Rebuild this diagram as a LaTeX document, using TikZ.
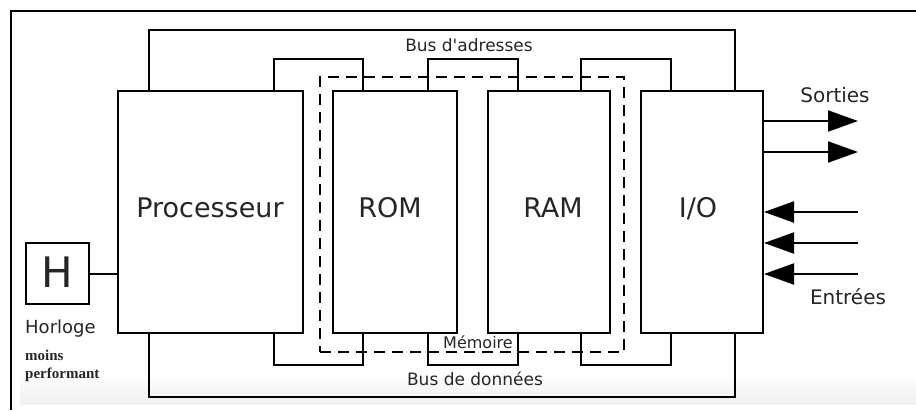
\documentclass[tikz,border=0pt]{standalone}
\usepackage{fontspec}
\setmainfont{DejaVu Sans}
\newfontfamily\serifb{Liberation Serif}
\usetikzlibrary{arrows.meta,calc}
\begin{document}
\begin{tikzpicture}[x=1pt,y=-1pt,
  blk/.style={draw,line width=2pt,minimum height=242pt,inner sep=0pt},
  bus/.style={draw,line width=2pt},
  memframe/.style={draw,line width=2.6pt,dash pattern=on 11pt off 7pt,minimum width=304pt,minimum height=275pt,inner sep=0pt},
  lbl/.style={anchor=base,inner sep=0pt,text=black!85},
  io arrow/.style={line width=2pt,-{Triangle[length=30pt,width=21pt]}}]
\useasboundingbox (0,0) rectangle (916,410);
\shade[top color=white,bottom color=black!6] (20,372) rectangle (916,404);
\draw[line width=1.3pt] (11,410) -- (11,11) -- (916,11);
% blocks
\node[blk,minimum width=185pt] (proc) at (210.5,212) {};
\node[blk,minimum width=124pt] (rom) at (395,212) {};
\node[blk,minimum width=122pt] (ram) at (549,212) {};
\node[blk,minimum width=122pt] (io) at (702,212) {};
\node[draw,line width=2pt,minimum width=63pt,minimum height=61pt,inner sep=0pt] (h) at (57.5,273.5) {};
\node[memframe] (mem) at (472,214.5) {};
% buses
\draw[bus] ([xshift=32pt]proc.north west) -- ++(0,60pt) -| ([xshift=-29pt]io.north east);
\draw[bus] ([xshift=32pt]proc.south west) -- ++(0,-63pt) -| ([xshift=-29pt]io.south east);
\draw[bus] ([xshift=-30pt]proc.north east) -- ++(0,31pt) -| ([xshift=31pt]rom.north west);
\draw[bus] ([xshift=-30pt]rom.north east) -- ++(0,31pt) -| ([xshift=31pt]ram.north west);
\draw[bus] ([xshift=-30pt]ram.north east) -- ++(0,31pt) -| ([xshift=31pt]io.north west);
\draw[bus] ([xshift=-30pt]proc.south east) -- ++(0,-31pt) -| ([xshift=31pt]rom.south west);
\draw[bus] ([xshift=-30pt]rom.south east) -- ++(0,-31pt) -| ([xshift=31pt]ram.south west);
\draw[bus] ([xshift=-30pt]ram.south east) -- ++(0,-31pt) -| ([xshift=31pt]io.south west);
\draw[line width=2pt] (h.east) -- (h.east -| proc.west);
% outputs / inputs
\coordinate (o1) at (858,121);
\coordinate (o2) at (858,152);
\coordinate (i1) at (858,212);
\coordinate (i2) at (858,243);
\coordinate (i3) at (858,274);
\draw[io arrow] (o1 -| io.east) -- (o1);
\draw[io arrow] (o2 -| io.east) -- (o2);
\draw[io arrow] (i1) -- (i1 -| io.east);
\draw[io arrow] (i2) -- (i2 -| io.east);
\draw[io arrow] (i3) -- (i3 -| io.east);
% labels
\node[lbl,font=\fontsize{27}{30}\selectfont] (tproc) at (210,217) {Processeur};
\node[lbl,font=\fontsize{27}{30}\selectfont] (trom) at (390,217) {ROM};
\node[lbl,font=\fontsize{27}{30}\selectfont] (tram) at (553,217) {RAM};
\node[lbl,font=\fontsize{27}{30}\selectfont] (tio) at (698,217) {I/O};
\node[lbl,font=\fontsize{42}{44}\selectfont] (th) at (57.5,287) {H};
\node[lbl,font=\fontsize{17}{20}\selectfont] (tba) at (469,51) {Bus d\textquotesingle adresses};
\node[lbl,font=\fontsize{17}{20}\selectfont] (tbd) at (475,385) {Bus de données};
\node[lbl,font=\fontsize{16}{19}\selectfont] (tmem) at (478,348) {Mémoire};
\node[lbl,font=\fontsize{20}{23}\selectfont] (tsor) at (835,102) {Sorties};
\node[lbl,font=\fontsize{20}{23}\selectfont] (tent) at (848,304) {Entrées};
\node[lbl,anchor=base west,font=\fontsize{18}{21}\selectfont] (thor) at (25,333) {Horloge};
\node[lbl,anchor=base west,font=\serifb\bfseries\fontsize{15}{17}\selectfont] (tm1) at (25,360) {moins};
\node[lbl,anchor=base west,font=\serifb\bfseries\fontsize{15}{17}\selectfont] (tm2) at (25,378) {performant};
\end{tikzpicture}
\end{document}
